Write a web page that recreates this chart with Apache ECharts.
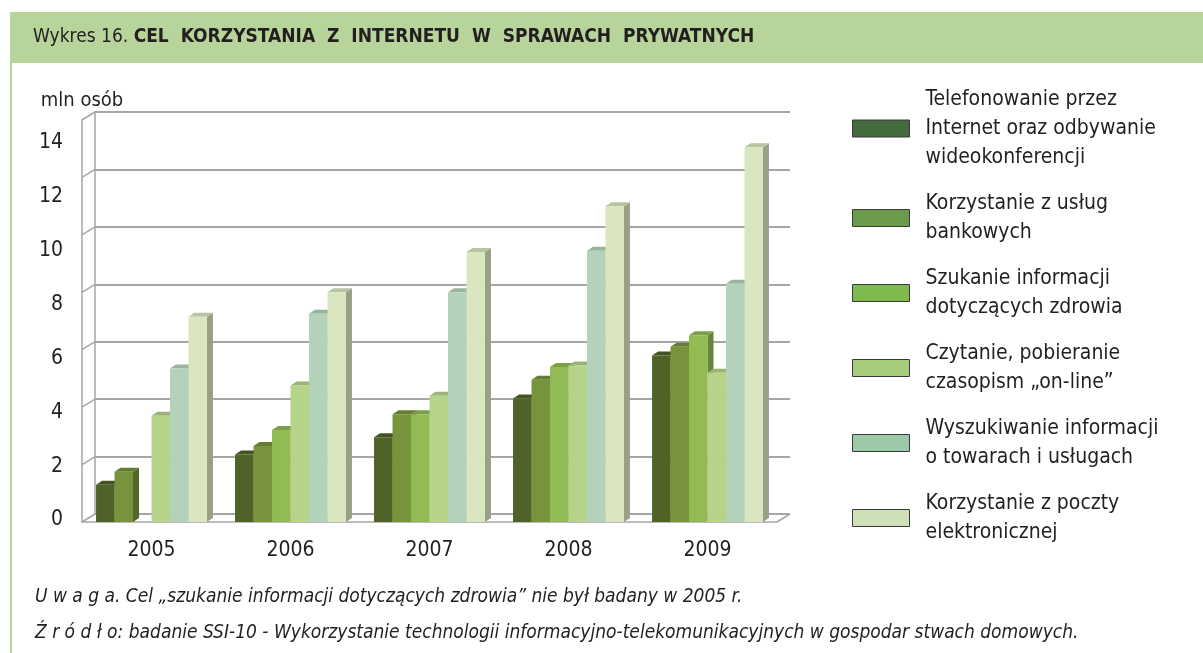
<!DOCTYPE html>
<html>
<head>
<meta charset="utf-8">
<script src="https://cdn.jsdelivr.net/npm/echarts@6/dist/echarts.min.js"></script>
<style>
  html, body { margin: 0; padding: 0; background: #fff; }
  #chart { width: 1203px; height: 653px; }
</style>
</head>
<body>
<div id="chart"></div>
<script>
// data (mln osób)
const years = ["2005", "2006", "2007", "2008", "2009"];
const seriesNames = [
  "Telefonowanie przez\nInternet oraz odbywanie\nwideokonferencji",
  "Korzystanie z usług\nbankowych",
  "Szukanie informacji\ndotyczących zdrowia",
  "Czytanie, pobieranie\nczasopism „on-line”",
  "Wyszukiwanie informacji\no towarach i usługach",
  "Korzystanie z poczty\nelektronicznej"
];
const telefonowanie = [1.3, 2.35, 2.95, 4.3, 5.8];
const bankowosc = [1.75, 2.65, 3.75, 4.95, 6.1];
const zdrowie = [null, 3.2, 3.75, 5.4, 6.5];
const czasopisma = [3.7, 4.75, 4.4, 5.45, 5.2];
const towary = [5.35, 7.25, 8.0, 9.45, 8.3];
const poczta = [7.15, 8.0, 9.4, 11.0, 13.05];
const allSeries = [telefonowanie, bankowosc, zdrowie, czasopisma, towary, poczta];
const yTicks = [0, 2, 4, 6, 8, 10, 12, 14];

const barColors = ["#4f6228", "#77933c", "#93bb55", "#b6d38a", "#b4d2b9", "#d9e6c0"];
const legendColors = ["#436b3d", "#6b9a4a", "#7dbb4f", "#a8cd7a", "#9ccaa9", "#cde0b8"];
const font = "'Liberation Sans Narrow', 'DejaVu Sans Condensed', 'Arial Narrow', sans-serif";
const textColor = "#231f20";
const wallColor = "#a6a6a6";
const depthX = 13, depthY = 8;

const chart = echarts.init(document.getElementById("chart"));

// darken a hex colour by factor f (0..1)
function shade(hex, f) {
  const n = parseInt(hex.slice(1), 16);
  const r = Math.round(((n >> 16) & 255) * f);
  const g = Math.round(((n >> 8) & 255) * f);
  const b = Math.round((n & 255) * f);
  return "rgb(" + r + "," + g + "," + b + ")";
}

function bar3d(k) {
  return function (params, api) {
    const v = api.value(1);
    if (v == null || isNaN(v)) return;
    const top = api.coord([api.value(0), v]);
    const base = api.coord([api.value(0), 0]);
    const band = api.size([1, 0])[0];
    const bw = band * 0.133;
    const x0 = top[0] + (k - 3) * bw;
    const d = 6, e = 4;
    const c = barColors[k];
    return {
      type: "group",
      children: [
        { type: "polygon", shape: { points: [[x0 + bw, top[1]], [x0 + bw + d, top[1] - e], [x0 + bw + d, base[1] - e], [x0 + bw, base[1]]] },
          style: { fill: shade(c, 0.7) } },
        { type: "polygon", shape: { points: [[x0, top[1]], [x0 + d, top[1] - e], [x0 + bw + d, top[1] - e], [x0 + bw, top[1]]] },
          style: { fill: shade(c, 0.85) } },
        { type: "rect", shape: { x: x0, y: top[1], width: bw, height: base[1] - top[1] },
          style: { fill: c } }
      ]
    };
  };
}

// side wall diagonals and floor edge
function walls(params, api) {
  const v = api.value(0);
  const p = api.coord([0, v]);
  const band = api.size([1, 0])[0];
  const x = p[0] - band / 2;
  const children = [
    { type: "line", shape: { x1: x, y1: p[1], x2: x + depthX, y2: p[1] - depthY },
      style: { stroke: wallColor, lineWidth: 1.5 } }
  ];
  if (v === 0) {
    const xr = x + band * years.length;
    children.push({ type: "line", shape: { x1: xr, y1: p[1], x2: xr + depthX, y2: p[1] - depthY },
      style: { stroke: wallColor, lineWidth: 1.5 } });
  }
  return { type: "group", children: children };
}

const series = allSeries.map((vals, k) => ({
  name: seriesNames[k],
  type: "custom",
  xAxisIndex: 0,
  yAxisIndex: 0,
  renderItem: bar3d(k),
  encode: { x: 0, y: 1 },
  itemStyle: { color: legendColors[k] },
  data: vals.map((v, i) => [i, v]),
  z: 5 + k
}));
series.push({
  type: "custom",
  xAxisIndex: 0,
  yAxisIndex: 0,
  renderItem: walls,
  encode: { x: -1, y: 0 },
  data: yTicks.map(t => [t]),
  silent: true,
  z: 1
});

const option = {
  backgroundColor: "#fff",
  animation: false,
  textStyle: { fontFamily: font },
  title: {
    left: 33, top: 28, padding: 0,
    text: "{a|Wykres 16. }{b|CEL  KORZYSTANIA  Z  INTERNETU  W  SPRAWACH  PRYWATNYCH}",
    textStyle: {
      rich: {
        a: { fontFamily: font, fontSize: 19, fontWeight: "normal", color: textColor },
        b: { fontFamily: font, fontSize: 19, fontWeight: "bold", color: textColor }
      }
    }
  },
  graphic: [
    { type: "rect", left: 10, top: 12, shape: { width: 1193, height: 51 }, style: { fill: "#b7d59b" }, z: -10 },
    { type: "rect", left: 10, top: 63, shape: { width: 2, height: 590 }, style: { fill: "#b7d59b" }, z: -10 },
    { type: "text", left: 35, top: 588, style: { text: "U w a g a. Cel „szukanie informacji dotyczących zdrowia” nie był badany w 2005 r.",
      font: "italic 19px " + font, fill: textColor } },
    { type: "text", left: 35, top: 624, style: { text: "Ź r ó d ł o: badanie SSI-10 - Wykorzystanie technologii informacyjno-telekomunikacyjnych w gospodar stwach domowych.",
      font: "italic 19px " + font, fill: textColor } }
  ],
  legend: {
    orient: "vertical",
    left: 852, top: 85,
    padding: 0,
    itemWidth: 57, itemHeight: 17, itemGap: 17,
    icon: "rect",
    itemStyle: { borderColor: "#3a3a3a", borderWidth: 1 },
    textStyle: { fontFamily: font, fontSize: 21, lineHeight: 29, color: textColor, padding: [0, 0, 0, 11] },
    data: seriesNames.map((n, k) => ({ name: n, itemStyle: { color: legendColors[k] } }))
  },
  grid: [
    { left: 82, right: 426, top: 120, bottom: 131 },   // front (bars)
    { left: 95, right: 413, top: 112, bottom: 139 },   // back wall
    { left: 82, right: 426, top: 143, bottom: 133 }    // tick labels
  ],
  xAxis: [
    { gridIndex: 0, type: "category", data: years,
      axisLine: { lineStyle: { color: wallColor, width: 1.5 } }, axisTick: { show: false },
      axisLabel: { fontFamily: font, fontSize: 21, color: textColor, margin: 18 } },
    { gridIndex: 1, type: "category", data: years, show: false },
    { gridIndex: 2, type: "category", data: years, show: false }
  ],
  yAxis: [
    { gridIndex: 0, type: "value", min: 0, max: 14, interval: 2,
      axisLine: { show: true, lineStyle: { color: wallColor, width: 1.5 } }, axisTick: { show: false },
      axisLabel: { show: false }, splitLine: { show: false } },
    { gridIndex: 1, type: "value", min: 0, max: 14, interval: 2,
      axisLine: { show: true, lineStyle: { color: wallColor, width: 1.5 } }, axisTick: { show: false },
      axisLabel: { show: false }, splitLine: { show: true, lineStyle: { color: wallColor, width: 2 } } },
    { gridIndex: 2, type: "value", min: 0, max: 14, interval: 2,
      name: "mln osób", nameLocation: "end", nameGap: 32,
      nameTextStyle: { fontFamily: font, fontSize: 20, color: textColor, align: "center" },
      axisLine: { show: false }, axisTick: { show: false }, splitLine: { show: false },
      axisLabel: { fontFamily: font, fontSize: 21, color: textColor, margin: 19 } }
  ],
  series: series
};

option && chart.setOption(option);
</script>
</body>
</html>
